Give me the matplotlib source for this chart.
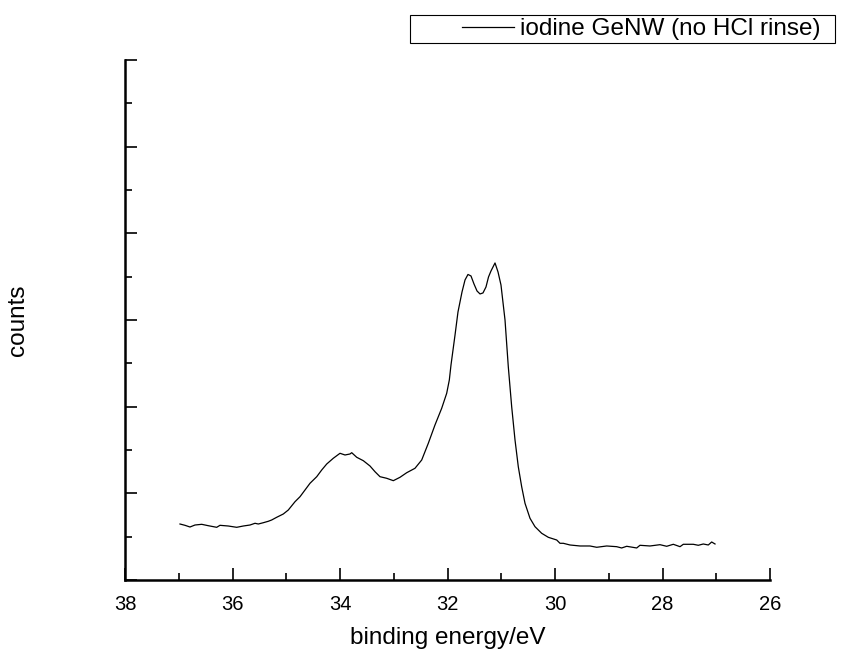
import matplotlib
matplotlib.use('Agg')
import matplotlib.pyplot as plt
from matplotlib.legend_handler import HandlerLine2D
from matplotlib.patches import Rectangle
from matplotlib.ticker import MultipleLocator

plt.rcParams['font.family'] = ['Liberation Sans', 'DejaVu Sans']

# binding energy (eV) and counts (arb. units)
energy = [36.977, 36.884, 36.791, 36.698, 36.573, 36.450, 36.294, 36.233,
          36.078, 35.922, 35.799, 35.674, 35.581, 35.520, 35.427, 35.334,
          35.271, 35.178, 35.055, 34.962, 34.837, 34.744, 34.651, 34.558,
          34.433, 34.340, 34.247, 34.125, 34.000, 33.907, 33.814, 33.782,
          33.689, 33.566, 33.442, 33.349, 33.256, 33.131, 33.008, 32.884,
          32.759, 32.605, 32.480, 32.357, 32.233, 32.108, 32.015, 31.966,
          31.935, 31.860, 31.805, 31.730, 31.674, 31.619, 31.563, 31.507,
          31.451, 31.395, 31.340, 31.284, 31.237, 31.191, 31.116, 31.060,
          31.005, 30.930, 30.869, 30.806, 30.744, 30.683, 30.620, 30.558,
          30.465, 30.372, 30.248, 30.124, 29.968, 29.907, 29.845, 29.721,
          29.535, 29.349, 29.224, 29.038, 28.853, 28.760, 28.666, 28.480,
          28.419, 28.233, 28.047, 27.922, 27.799, 27.674, 27.613, 27.427,
          27.334, 27.241, 27.148, 27.085, 27.023]
counts = [1.292, 1.262, 1.223, 1.269, 1.285, 1.253, 1.216, 1.262,
          1.246, 1.216, 1.246, 1.269, 1.309, 1.292, 1.322, 1.355,
          1.385, 1.447, 1.523, 1.615, 1.807, 1.922, 2.077, 2.232,
          2.384, 2.539, 2.677, 2.809, 2.924, 2.885, 2.908, 2.938,
          2.832, 2.753, 2.631, 2.499, 2.384, 2.347, 2.292, 2.370,
          2.476, 2.578, 2.769, 3.155, 3.577, 3.963, 4.309, 4.616,
          4.962, 5.654, 6.185, 6.647, 6.924, 7.051, 7.016, 6.831,
          6.670, 6.601, 6.624, 6.762, 6.993, 7.131, 7.316, 7.108,
          6.808, 6.000, 4.923, 4.000, 3.231, 2.615, 2.153, 1.770,
          1.424, 1.230, 1.078, 0.985, 0.923, 0.847, 0.847, 0.808,
          0.785, 0.785, 0.755, 0.785, 0.769, 0.739, 0.778, 0.739,
          0.801, 0.785, 0.815, 0.778, 0.824, 0.769, 0.824, 0.824,
          0.801, 0.831, 0.808, 0.877, 0.831]

fig = plt.figure(figsize=(8.59, 6.52), dpi=100)
ax = fig.add_axes([125 / 859, 72 / 652, 645 / 859, 520 / 652])

ax.plot(energy, counts, color='black', linewidth=0.9,
        label='iodine GeNW (no HCl rinse)')

ax.set_xlim(38, 26)
ax.set_ylim(0, 12)
ax.xaxis.set_major_locator(MultipleLocator(2))
ax.xaxis.set_minor_locator(MultipleLocator(1))
ax.yaxis.set_major_locator(MultipleLocator(2))
ax.yaxis.set_minor_locator(MultipleLocator(1))
ax.tick_params(which='both', direction='in', width=1.2, colors='black')
ax.tick_params(which='major', length=8.5)
ax.tick_params(which='minor', length=5)
ax.tick_params(axis='x', labelsize=14.5, pad=11)
ax.tick_params(axis='y', labelleft=False)

for side in ['top', 'right']:
    ax.spines[side].set_visible(False)
for side in ['left', 'bottom']:
    ax.spines[side].set_linewidth(1.8)

ax.set_xlabel('binding energy/eV', fontsize=17.5, labelpad=9)
ax.set_ylabel('counts', fontsize=17.5, labelpad=66)

# legend text/handle without frame, box drawn separately to match the padding
leg = fig.legend(loc='upper right', bbox_to_anchor=(821 / 859, 1 - 18 / 652),
                 bbox_transform=fig.transFigure, borderaxespad=0,
                 fontsize=17.5, frameon=False, borderpad=0,
                 handlelength=2.15, handletextpad=0.25,
                 handler_map={matplotlib.lines.Line2D: HandlerLine2D(xpad=0.0)})
fig.add_artist(Rectangle((410 / 859, 1 - 43 / 652), 425 / 859, 28 / 652,
                         transform=fig.transFigure, fill=False,
                         edgecolor='black', linewidth=0.8))

fig.savefig('out.png', dpi=100)
